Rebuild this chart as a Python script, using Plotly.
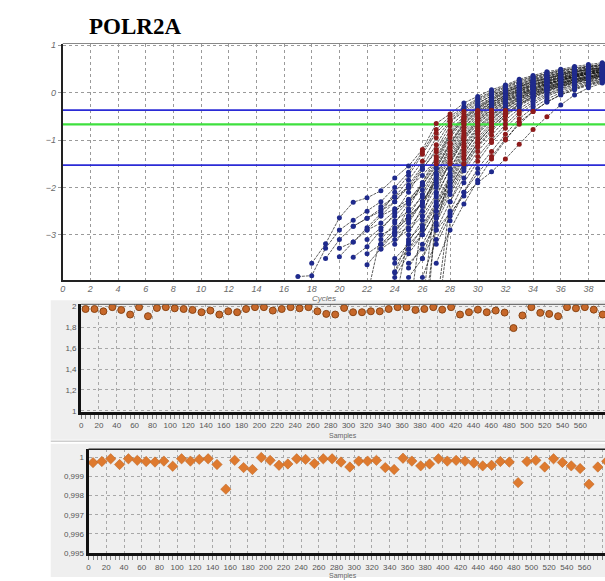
import plotly.graph_objects as go

# ---------------- data ----------------
title_text = "POLR2A"
window_upper = -0.37
threshold = -0.67
window_lower = -1.53

cycle_ticks = list(range(0, 40, 2))
logf_ticks = [-3, -2, -1, 0, 1]

curve_start = [18, 17, 19, 20, 21, 21, 22, 22, 23, 23, 24, 24, 25, 24, 23, 26, 24,
               25, 26, 24, 24, 25, 27, 26, 27, 27, 23, 24, 22, 24, 22, 26, 20, 25,
               24, 25, 26, 27, 23, 24, 22, 27]
curve_values = [
    [-3.6, -3.19, -2.64, -2.31, -2.22, -2.07, -1.8, -1.55, -1.2, -0.65, -0.45, -0.22, -0.08, 0.06, 0.16, 0.28, 0.36, 0.44, 0.49, 0.55, 0.59, 0.63, 0.65],
    [-3.88, -3.86, -3.28, -2.9, -2.69, -2.5, -2.3, -2.0, -1.68, -1.25, -0.78, -0.5, -0.3, -0.12, 0.02, 0.14, 0.25, 0.34, 0.41, 0.47, 0.52, 0.56, 0.6, 0.62],
    [-3.5, -3.1, -2.82, -2.65, -2.45, -2.2, -1.85, -1.45, -0.95, -0.6, -0.36, -0.18, -0.03, 0.1, 0.21, 0.3, 0.38, 0.44, 0.5, 0.54, 0.58, 0.6],
    [-3.46, -3.15, -2.9, -2.6, -2.3, -1.95, -1.55, -1.1, -0.62, -0.4, -0.22, -0.07, 0.07, 0.18, 0.28, 0.36, 0.42, 0.48, 0.53, 0.57, 0.59],
    [-3.47, -3.25, -2.9, -2.55, -2.1, -1.62, -1.2, -0.7, -0.45, -0.24, -0.06, 0.06, 0.17, 0.27, 0.35, 0.41, 0.47, 0.52, 0.56, 0.58],
    [-2.82, -2.65, -2.5, -2.3, -2.0, -1.6, -1.25, -0.8, -0.5, -0.28, -0.1, 0.04, 0.15, 0.25, 0.33, 0.4, 0.45, 0.5, 0.54, 0.57],
    [-3.63, -3.3, -2.95, -2.45, -1.9, -1.35, -0.85, -0.52, -0.3, -0.12, 0.02, 0.13, 0.23, 0.31, 0.38, 0.44, 0.49, 0.53, 0.56],
    [-3.1, -2.85, -2.6, -2.3, -1.9, -1.45, -0.9, -0.55, -0.33, -0.15, 0.0, 0.12, 0.22, 0.3, 0.37, 0.43, 0.48, 0.52, 0.55],
    [-3.1, -2.75, -2.35, -1.95, -1.5, -0.95, -0.58, -0.35, -0.17, -0.02, 0.1, 0.2, 0.29, 0.36, 0.42, 0.47, 0.51, 0.54],
    [-2.6, -2.45, -2.25, -1.95, -1.55, -1.05, -0.62, -0.38, -0.2, -0.05, 0.08, 0.18, 0.27, 0.34, 0.4, 0.45, 0.5, 0.53],
    [-2.95, -2.6, -2.15, -1.6, -1.1, -0.67, -0.42, -0.22, -0.07, 0.06, 0.16, 0.25, 0.32, 0.38, 0.44, 0.49, 0.52],
    [-2.7, -2.5, -2.2, -1.7, -1.15, -0.72, -0.45, -0.25, -0.09, 0.04, 0.15, 0.24, 0.31, 0.37, 0.43, 0.48, 0.51],
    [-4.8, -2.6, -1.75, -1.25, -0.8, -0.5, -0.28, -0.12, 0.02, 0.13, 0.22, 0.3, 0.36, 0.42, 0.46, 0.5],
    [-3.2, -2.75, -2.3, -1.8, -1.3, -0.85, -0.54, -0.3, -0.14, 0.0, 0.11, 0.2, 0.28, 0.35, 0.41, 0.45, 0.49],
    [-3.2, -2.9, -2.65, -2.3, -1.85, -1.35, -0.9, -0.57, -0.32, -0.15, -0.02, 0.1, 0.19, 0.27, 0.34, 0.4, 0.44, 0.48],
    [-4.5, -2.1, -1.45, -0.95, -0.6, -0.35, -0.18, -0.04, 0.08, 0.17, 0.26, 0.33, 0.39, 0.43, 0.47],
    [-3.0, -2.85, -2.5, -2.0, -1.5, -1.0, -0.67, -0.42, -0.22, -0.06, 0.06, 0.16, 0.25, 0.32, 0.38, 0.42, 0.46],
    [-3.15, -2.69, -2.2, -1.6, -1.08, -0.72, -0.46, -0.25, -0.08, 0.04, 0.14, 0.23, 0.3, 0.36, 0.41, 0.45],
    [-5.0, -2.8, -1.7, -1.15, -0.78, -0.5, -0.28, -0.1, 0.02, 0.12, 0.21, 0.28, 0.34, 0.39, 0.43],
    [-3.8, -3.3, -2.85, -2.35, -1.8, -1.25, -0.88, -0.58, -0.34, -0.15, -0.02, 0.09, 0.18, 0.26, 0.32, 0.37, 0.41],
    [-3.9, -3.4, -3.0, -2.5, -1.95, -1.4, -1.0, -0.67, -0.4, -0.2, -0.05, 0.07, 0.16, 0.24, 0.3, 0.35, 0.4],
    [-3.7, -3.2, -2.65, -2.08, -1.55, -1.12, -0.78, -0.48, -0.26, -0.1, 0.03, 0.13, 0.21, 0.27, 0.33, 0.38],
    [-4.6, -2.3, -1.65, -1.24, -0.9, -0.58, -0.34, -0.16, -0.02, 0.09, 0.18, 0.24, 0.3, 0.35],
    [-3.9, -3.1, -2.5, -1.9, -1.45, -1.05, -0.75, -0.45, -0.25, -0.08, 0.04, 0.13, 0.2, 0.27, 0.32],
    [-3.6, -2.9, -2.35, -1.85, -1.4, -1.0, -0.62, -0.4, -0.2, -0.05, 0.06, 0.15, 0.22, 0.28],
    [-2.9, -2.55, -2.18, -1.9, -1.67, -1.4, -1.09, -0.78, -0.51, -0.26, -0.05, 0.1, 0.2, 0.26],
    [-2.4, -2.2, -2.0, -1.75, -1.4, -0.88, -0.55, -0.32, -0.14, 0.01, 0.13, 0.23, 0.31, 0.38, 0.44, 0.49, 0.53, 0.56],
    [-4.5, -3.0, -2.4, -1.72, -1.2, -0.75, -0.47, -0.26, -0.1, 0.03, 0.14, 0.23, 0.3, 0.37, 0.43, 0.47, 0.51],
    [-4.3, -3.0, -2.85, -2.6, -2.35, -1.95, -1.48, -0.98, -0.64, -0.4, -0.2, -0.05, 0.07, 0.17, 0.26, 0.33, 0.39, 0.43, 0.47],
    [-3.78, -3.1, -2.8, -2.3, -1.75, -1.2, -0.82, -0.54, -0.31, -0.12, 0.0, 0.1, 0.2, 0.27, 0.33, 0.38, 0.42],
    [-2.9, -2.75, -2.5, -2.3, -2.05, -1.6, -1.08, -0.65, -0.4, -0.21, -0.06, 0.07, 0.17, 0.26, 0.33, 0.39, 0.45, 0.49, 0.52],
    [-6.0, -2.4, -1.9, -1.35, -0.95, -0.63, -0.38, -0.18, -0.04, 0.08, 0.17, 0.25, 0.31, 0.36, 0.4],
    [-3.28, -3.15, -2.85, -2.55, -2.1, -1.75, -1.3, -0.85, -0.55, -0.33, -0.15, 0.0, 0.12, 0.23, 0.32, 0.4, 0.46, 0.51, 0.55, 0.59, 0.61],
    [-3.9, -3.5, -2.6, -2.0, -1.5, -1.06, -0.72, -0.45, -0.24, -0.08, 0.05, 0.14, 0.22, 0.29, 0.34, 0.39],
    [-3.5, -3.2, -2.9, -2.4, -1.85, -1.3, -0.85, -0.56, -0.33, -0.14, -0.01, 0.1, 0.19, 0.27, 0.33, 0.38, 0.42],
    [-3.6, -3.3, -2.75, -2.15, -1.6, -1.15, -0.82, -0.5, -0.28, -0.12, 0.02, 0.12, 0.2, 0.27, 0.32, 0.37],
    [-3.5, -2.9, -2.3, -1.8, -1.35, -1.0, -0.67, -0.4, -0.2, -0.05, 0.07, 0.16, 0.23, 0.29, 0.34],
    [-5.0, -2.7, -2.1, -1.6, -1.24, -0.88, -0.55, -0.32, -0.14, 0.0, 0.1, 0.18, 0.25, 0.3],
    [-3.3, -3.1, -2.9, -2.6, -2.15, -1.62, -1.12, -0.75, -0.48, -0.27, -0.1, 0.03, 0.13, 0.22, 0.29, 0.35, 0.4, 0.44],
    [-3.6, -3.3, -3.0, -2.5, -2.0, -1.5, -1.05, -0.72, -0.45, -0.24, -0.08, 0.05, 0.15, 0.23, 0.29, 0.35, 0.39],
    [-3.4, -3.2, -3.0, -2.7, -2.3, -1.9, -1.4, -0.93, -0.6, -0.37, -0.18, -0.03, 0.09, 0.19, 0.27, 0.34, 0.4, 0.44, 0.48],
    [-3.2, -2.6, -2.1, -1.7, -1.35, -0.98, -0.67, -0.4, -0.2, -0.04, 0.08, 0.17, 0.24, 0.3],
]

sample_ids = list(range(5, 595, 10))
efficiency = [1.977, 1.977, 1.955, 1.995, 1.968, 1.924, 1.995, 1.908, 1.987, 1.995,
              1.984, 1.977, 1.968, 1.946, 1.962, 1.924, 1.955, 1.946, 1.977, 1.995,
              1.995, 1.962, 1.977, 1.995, 1.984, 1.995, 1.955, 1.930, 1.924,
              1.987, 1.946, 1.946, 1.955, 1.955, 1.977, 1.995, 1.995, 1.968, 1.977,
              1.995, 1.971, 1.995, 1.924, 1.946, 1.971, 1.946, 1.962, 1.943, 1.794,
              1.915, 1.995, 1.94, 1.93, 1.908, 1.995, 1.984, 1.995, 1.971, 1.924]
r_squared = [0.99973, 0.99979, 0.99993, 0.99963, 0.99993, 0.99985, 0.99979, 0.99976, 0.99981, 0.99954,
             0.99993, 0.99981, 0.9999, 0.99993, 0.99963, 0.99834, 0.99985, 0.99947, 0.99937, 1.0,
             0.99985, 0.99959, 0.99966, 0.99993, 0.9999, 0.99968, 0.99993, 0.99993, 0.99976,
             0.9995, 0.99981, 0.99981, 0.99985, 0.99947, 0.99937, 0.99996, 0.99981, 0.99956, 0.99966,
             0.99993, 0.99981, 0.99985, 0.99981, 0.99971, 0.99956, 0.99959, 0.99979, 0.99976, 0.99868,
             0.99979, 0.99985, 0.9995, 0.99993, 0.99974, 0.99956, 0.99942, 0.9986, 0.9995, 0.9998]
eff_ticks = [1, 1.2, 1.4, 1.6, 1.8, 2]
eff_ticktext = ["1", "1,2", "1,4", "1,6", "1,8", "2"]
r2_ticks = [0.995, 0.996, 0.997, 0.998, 0.999, 1.0]
r2_ticktext = ["0,995", "0,996", "0,997", "0,998", "0,999", "1"]
sample_ticks = list(range(0, 600, 20))

# ---------------- figure ----------------
W, H = 605, 581
def px(x):
    return x / W
def py(y):
    return 1 - y / H

fig = go.Figure()

lx, ly = [], []
bx, by, rx, ry = [], [], [], []
for s, vals in zip(curve_start, curve_values):
    for i, v in enumerate(vals):
        c = s + i
        lx.append(c); ly.append(v)
        if window_lower <= v <= window_upper:
            rx.append(c); ry.append(v)
        else:
            bx.append(c); by.append(v)
    lx.append(None); ly.append(None)

fig.add_trace(go.Scatter(x=lx, y=ly, mode="lines", xaxis="x", yaxis="y",
                         line=dict(color="rgba(15,15,15,0.85)", width=0.8, dash="3px,1px"),
                         hoverinfo="skip", showlegend=False))
for yv, col, w in [(window_upper, "#2b2bd6", 1.6), (threshold, "#3ee03e", 2.2), (window_lower, "#2b2bd6", 1.6)]:
    fig.add_trace(go.Scatter(x=[0, 40], y=[yv, yv], mode="lines", xaxis="x", yaxis="y",
                             line=dict(color=col, width=w), showlegend=False, hoverinfo="skip"))
fig.add_trace(go.Scatter(x=bx, y=by, mode="markers", xaxis="x", yaxis="y",
                         marker=dict(color="#1f2a8c", size=5, symbol="circle"),
                         showlegend=False))
fig.add_trace(go.Scatter(x=rx, y=ry, mode="markers", xaxis="x", yaxis="y",
                         marker=dict(color="#8e1b1b", size=5, symbol="circle"),
                         showlegend=False))

fig.add_trace(go.Scatter(x=sample_ids, y=efficiency, mode="markers", xaxis="x2", yaxis="y2",
                         marker=dict(color="#c7682a", size=7, line=dict(color="#8a4514", width=1)),
                         showlegend=False))
fig.add_trace(go.Scatter(x=sample_ids, y=r_squared, mode="markers", xaxis="x3", yaxis="y3",
                         marker=dict(color="#de7a2f", size=8, symbol="diamond",
                                     line=dict(color="#b8601f", width=0.5)),
                         showlegend=False))

tick_font1 = dict(family="Liberation Sans, Arial, sans-serif", size=9, color="#6a6a6a", style="italic")
tick_font2 = dict(family="Liberation Sans Narrow, Arial Narrow, Liberation Sans, sans-serif",
                  size=8, color="#555555")

fig.update_layout(
    width=W, height=H,
    margin=dict(l=0, r=0, t=0, b=0),
    paper_bgcolor="white",
    plot_bgcolor="rgba(0,0,0,0)",
    xaxis=dict(domain=[px(60), 1], range=[0, 39.2], tickvals=cycle_ticks, anchor="y",
               showgrid=True, gridcolor="#9a9a9a", griddash="dot", gridwidth=1,
               showline=True, linecolor="#222", linewidth=2, zeroline=False,
               ticks="", tickfont=tick_font1, ticklabelstandoff=0),
    yaxis=dict(domain=[py(280), py(41)], range=[-3.944, 1.035], tickvals=logf_ticks, anchor="x",
               showgrid=True, gridcolor="#9a9a9a", griddash="dot", gridwidth=1,
               showline=True, linecolor="#222", linewidth=2, zeroline=False,
               ticks="outside", ticklen=3, tickcolor="#999", tickfont=tick_font1),
    xaxis2=dict(domain=[px(78.5), 1], range=[0, 587.6], tickvals=sample_ticks, anchor="y2",
                showgrid=True, gridcolor="#a8a8a8", griddash="dot", gridwidth=1,
                showline=True, linecolor="#111", linewidth=2.5, zeroline=False,
                ticks="outside", ticklen=4, tickcolor="#777",
                minor=dict(dtick=5, tick0=0, ticks="outside", ticklen=4, tickcolor="#888", showgrid=False),
                tickfont=tick_font2),
    yaxis2=dict(domain=[py(414), py(305)], range=[0.988, 2.022], tickvals=eff_ticks, ticktext=eff_ticktext,
                anchor="x2", showgrid=True, gridcolor="#a8a8a8", griddash="dot", gridwidth=1,
                showline=True, linecolor="#111", linewidth=3, zeroline=False,
                ticks="", tickfont=tick_font2),
    xaxis3=dict(domain=[px(86), 1], range=[0, 583.1], tickvals=sample_ticks, anchor="y3",
                showgrid=True, gridcolor="#a8a8a8", griddash="dot", gridwidth=1,
                showline=True, linecolor="#111", linewidth=2.5, zeroline=False,
                ticks="outside", ticklen=4, tickcolor="#777",
                minor=dict(dtick=5, tick0=0, ticks="outside", ticklen=4, tickcolor="#888", showgrid=False),
                tickfont=tick_font2),
    yaxis3=dict(domain=[py(557), py(451.7)], range=[0.99498, 1.00043], tickvals=r2_ticks, ticktext=r2_ticktext,
                anchor="x3", showgrid=True, gridcolor="#a8a8a8", griddash="dot", gridwidth=1,
                showline=True, linecolor="#111", linewidth=3, zeroline=False,
                ticks="", tickfont=tick_font2),
    shapes=[
        dict(type="rect", xref="paper", yref="paper", x0=px(48), x1=1, y0=py(442), y1=py(301),
             fillcolor="#efefef", line=dict(width=0), layer="below"),
        dict(type="line", xref="paper", yref="paper", x0=px(48), x1=1, y0=py(443.5), y1=py(443.5),
             line=dict(color="#b5b5b5", width=1)),
        dict(type="rect", xref="paper", yref="paper", x0=px(48), x1=1, y0=0, y1=py(446),
             fillcolor="#efefef", line=dict(width=0), layer="below"),
        dict(type="line", xref="x domain", yref="y domain", x0=0, x1=1, y0=1, y1=1,
             line=dict(color="#888", width=1)),
        dict(type="line", xref="x2 domain", yref="y2 domain", x0=0, x1=1, y0=1, y1=1,
             line=dict(color="#555", width=1)),
        dict(type="line", xref="x3 domain", yref="y3 domain", x0=0, x1=1, y0=1, y1=1,
             line=dict(color="#222", width=1.5)),
    ],
    annotations=[
        dict(text="<b>" + title_text + "</b>", xref="paper", yref="paper", x=px(133), y=py(24),
             xanchor="center", yanchor="middle", showarrow=False,
             font=dict(family="Liberation Serif, Times New Roman, serif", size=23, color="black")),
        dict(text="Cycles", xref="paper", yref="paper", x=px(323), y=py(299),
             xanchor="center", yanchor="middle", showarrow=False,
             font=dict(family="Liberation Sans, Arial, sans-serif", size=8, color="#666", style="italic")),
        dict(text="Samples", xref="paper", yref="paper", x=px(342), y=py(438),
             xanchor="center", yanchor="middle", showarrow=False,
             font=dict(family="Liberation Sans Narrow, Liberation Sans, sans-serif", size=7, color="#666")),
        dict(text="Samples", xref="paper", yref="paper", x=px(342), y=py(580),
             xanchor="center", yanchor="middle", showarrow=False,
             font=dict(family="Liberation Sans Narrow, Liberation Sans, sans-serif", size=7, color="#666")),
    ],
)

fig.write_html("out.html")
